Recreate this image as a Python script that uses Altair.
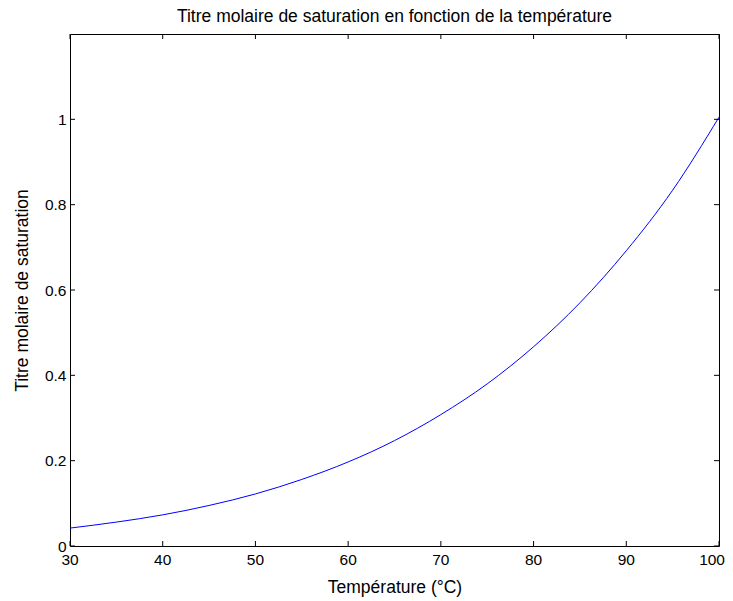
import altair as alt
import pandas as pd

temps = [30, 35, 40, 45, 50, 55, 60, 65, 70, 75, 80, 85, 90, 95, 100]
titre = [0.042, 0.056, 0.073, 0.095, 0.122, 0.156, 0.197, 0.247, 0.308, 0.380, 0.467, 0.570, 0.692, 0.834, 1.005]
x_ticks = [30, 40, 50, 60, 70, 80, 90, 100]
y_ticks = [0, 0.2, 0.4, 0.6, 0.8, 1.0]

W, H = 649, 512
FONT = "Liberation Sans"
LFS = 15.5
TFS = 17.5

df = pd.DataFrame({"T": temps, "X": titre})
xt = pd.DataFrame({"T": x_ticks, "label": [str(v) for v in x_ticks]})
yt = pd.DataFrame({"X": y_ticks})

xscale = alt.Scale(domain=[30, 100], nice=False, zero=False)
yscale = alt.Scale(domain=[0, 1.2], nice=False, zero=False)

line = alt.Chart(df).mark_line(color="#0000ff", strokeWidth=1, interpolate="monotone").encode(
    x=alt.X("T:Q", scale=xscale,
            axis=alt.Axis(title="Température (°C)", values=x_ticks, labels=False,
                          ticks=False, domain=False, grid=False,
                          titleFont=FONT, titleFontSize=TFS, titleFontWeight="normal",
                          titleColor="black", titlePadding=32)),
    y=alt.Y("X:Q", scale=yscale,
            axis=alt.Axis(title="Titre molaire de saturation", values=y_ticks, format="~g",
                          tickSize=0, domain=False, grid=False, labelPadding=4,
                          labelFlush=False, labelOverlap=False,
                          labelFont=FONT, labelFontSize=LFS, labelColor="black",
                          titleFont=FONT, titleFontSize=TFS, titleFontWeight="normal",
                          titleColor="black", titlePadding=13)),
)

# x tick labels as text marks (last one kept inside the page)
xlab_mid = alt.Chart(xt[xt["T"] < 100]).mark_text(
    font=FONT, fontSize=LFS, color="black", align="center", baseline="top", dy=0
).encode(x=alt.X("T:Q", scale=xscale), y=alt.value(H + 7), text="label:N")
xlab_end = alt.Chart(xt[xt["T"] == 100]).mark_text(
    font=FONT, fontSize=LFS, color="black", align="right", baseline="top", dx=6
).encode(x=alt.X("T:Q", scale=xscale), y=alt.value(H + 7), text="label:N")

bottom = alt.Chart(xt).mark_rule(color="black", strokeWidth=1).encode(
    x=alt.X("T:Q", scale=xscale), y=alt.value(H), y2=alt.value(H - 5))
top = alt.Chart(xt).mark_rule(color="black", strokeWidth=1).encode(
    x=alt.X("T:Q", scale=xscale), y=alt.value(0), y2=alt.value(5))
left = alt.Chart(yt).mark_rule(color="black", strokeWidth=1).encode(
    y=alt.Y("X:Q", scale=yscale), x=alt.value(0), x2=alt.value(5))
right = alt.Chart(yt).mark_rule(color="black", strokeWidth=1).encode(
    y=alt.Y("X:Q", scale=yscale), x=alt.value(W), x2=alt.value(W - 5))

chart = alt.layer(line, xlab_mid, xlab_end, bottom, top, left, right).properties(
    width=W, height=H,
    title=alt.Title("Titre molaire de saturation en fonction de la température",
                    font=FONT, fontSize=TFS, fontWeight="normal", color="black", offset=8),
    autosize=alt.AutoSizeParams(type="none"),
    padding={"left": 62, "top": 26, "right": 6, "bottom": 54},
).configure(background="white", view=alt.ViewConfig(stroke="black", strokeWidth=1))

chart.save("out.html", embed_options={"renderer": "svg", "actions": False})
